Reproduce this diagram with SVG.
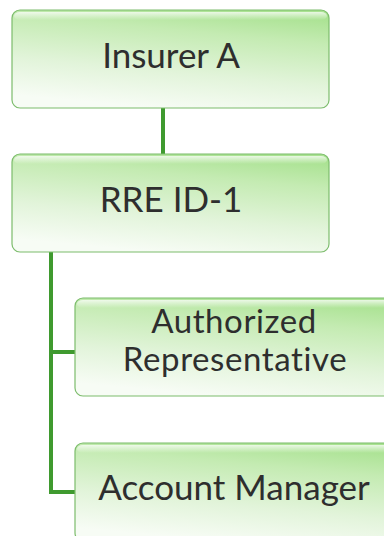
<svg xmlns="http://www.w3.org/2000/svg" width="384" height="536" viewBox="0 0 384 536">
  <defs>
    <linearGradient id="boxFill" x1="0.75" y1="0" x2="0.45" y2="1">
      <stop offset="0" stop-color="#a9e291"/>
      <stop offset="0.25" stop-color="#c4ebb2"/>
      <stop offset="0.65" stop-color="#e2f4da"/>
      <stop offset="1" stop-color="#f7fcf5"/>
    </linearGradient>
    <linearGradient id="topShine" x1="0" y1="0" x2="0" y2="1">
      <stop offset="0" stop-color="#ffffff" stop-opacity="0.75"/>
      <stop offset="1" stop-color="#ffffff" stop-opacity="0"/>
    </linearGradient>
  </defs>
  <style>
    .box { fill: url(#boxFill); stroke: #7cbc6c; stroke-width: 1.2; }
    .shine { fill: url(#topShine); }
    .label { font-family: Lato, "Liberation Sans", sans-serif; font-size: 35px; fill: #2e2e2e; text-anchor: middle; }
    .two-line { font-size: 33px; letter-spacing: 0.6px; }
    .link { fill: none; stroke: #3f9a2f; stroke-width: 4; }
  </style>
  <rect width="384" height="536" fill="#ffffff"/>

  <g id="connectors">
    <line class="link" x1="163" y1="108" x2="163" y2="154"/>
    <path class="link" d="M51 252 V492 H76"/>
    <line class="link" x1="51" y1="352" x2="76" y2="352"/>
  </g>

  <g id="insurer-a">
    <rect class="box" x="12" y="10" width="317" height="98" rx="8"/>
    <rect class="shine" x="14" y="12" width="313" height="8" rx="6"/>
    <text class="label" x="171" y="68">Insurer A</text>
  </g>

  <g id="rre-id-1">
    <rect class="box" x="12" y="154" width="317" height="98" rx="8"/>
    <rect class="shine" x="14" y="156" width="313" height="8" rx="6"/>
    <text class="label" x="171" y="212">RRE ID-1</text>
  </g>

  <g id="authorized-representative">
    <rect class="box" x="75" y="298" width="317" height="98" rx="8"/>
    <rect class="shine" x="77" y="300" width="313" height="8" rx="6"/>
    <text class="label two-line"><tspan x="234" y="333">Authorized</tspan><tspan x="235" y="371">Representative</tspan></text>
  </g>

  <g id="account-manager">
    <rect class="box" x="75" y="443" width="317" height="98" rx="8"/>
    <rect class="shine" x="77" y="445" width="313" height="8" rx="6"/>
    <text class="label" x="234" y="500">Account Manager</text>
  </g>
</svg>
